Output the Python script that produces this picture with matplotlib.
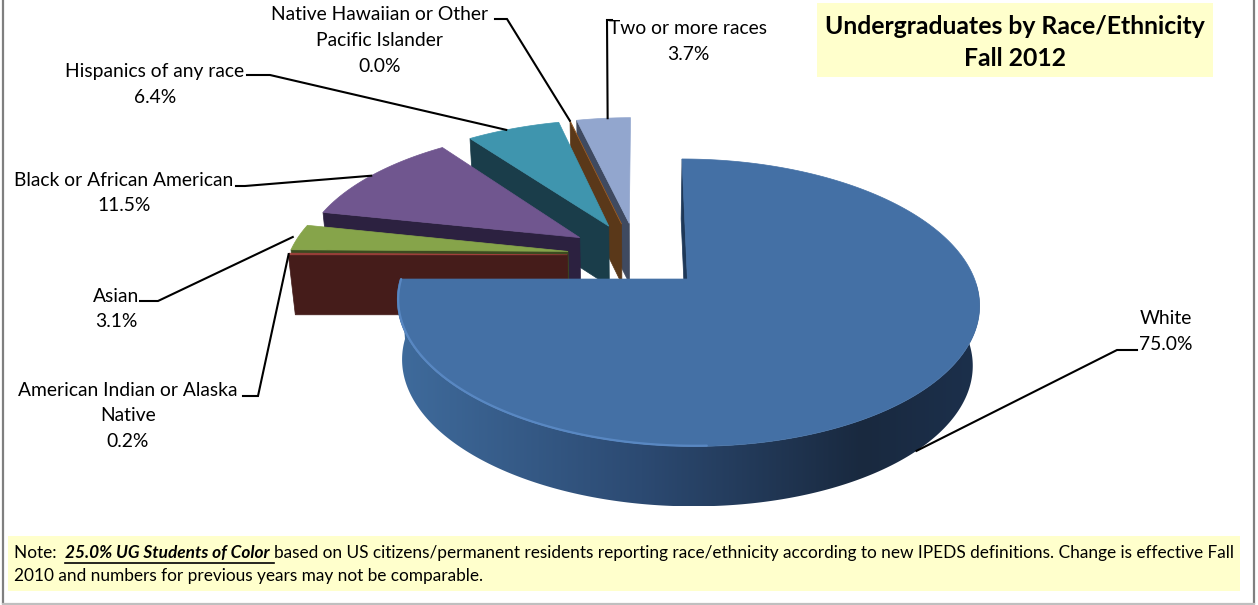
import numpy as np
import matplotlib
matplotlib.use('Agg')
import matplotlib.pyplot as plt
from matplotlib.patches import Polygon
from matplotlib.colors import LinearSegmentedColormap

categories = ['White', 'American Indian or Alaska Native', 'Asian',
              'Black or African American', 'Hispanics of any race',
              'Native Hawaiian or Other Pacific Islander', 'Two or more races']
values = [75.0, 0.2, 3.1, 11.5, 6.4, 0.0, 3.7]

label_lines = [['White', '75.0%'],
               ['American Indian or Alaska', 'Native', '0.2%'],
               ['Asian', '3.1%'],
               ['Black or African American', '11.5%'],
               ['Hispanics of any race', '6.4%'],
               ['Native Hawaiian or Other', 'Pacific Islander', '0.0%'],
               ['Two or more races', '3.7%']]
label_pos = [(1166, 319), (128, 390), (116, 296), (124, 180),
             (155, 72), (380, 15), (688, 29)]
# leader: label end, elbow; last point comes from the slice rim
leader_start = [(1137, 350), (243, 396), (140, 301), (236, 186),
                (247, 75), (495, 19), (612, 20)]
leader_elbow = [(1117, 350), (258, 396), (158, 301), (245, 186),
                (270, 75), (507, 19), (607, 20)]
leader_rim_angle = [135, 270.3, 276.3, 302, 333, 346.3, 354]
leader_gap = [0.0, 0.0, 0.02, 0.0, 0.0, 0.0, 0.0]

top_colors = ['#4470A5', '#A0403C', '#86A44A', '#70568F', '#3F95AE', '#A8662C', '#92A6CE']
face_colors = ['#1E3858', '#451C1A', '#3C4A20', '#2C2140', '#1A3D4A', '#5A3819', '#3F4A60']

title_lines = ['Undergraduates by Race/Ethnicity', 'Fall 2012']
note_first = [('Note:  ', False), ('25.0% UG Students of Color ', True),
              ('based on US citizens/permanent residents reporting race/ethnicity '
               'according to new IPEDS definitions. Change is effective Fall', False)]
note_second = '2010 and numbers for previous years may not be comparable.'

# fake 3D projection, fitted in pixels on the picture
CX, CY = 637, 255
F, G = 279, 132
K = 0.16
SHIFT = 2
EXPLODE = 0.25
THICK = 60
BOTTOM_SCALE = 0.98
YELLOW = '#FFFFCC'
FONT = 'Lato'
LABEL_SIZE = 13.9
TITLE_SIZE = 17.8
NOTE_SIZE = 12.45


def project(X, Y, bottom=False):
    s = 1 / (1 + K * Y)
    x = CX + F * X * s + SHIFT * Y * s
    y = CY - G * Y * s
    if bottom:
        x = CX + (x - CX) * BOTTOM_SCALE
        y = y + THICK
    return x, y


def rim_point(theta, offset, radius=1.0, bottom=False):
    t = np.radians(theta)
    return project(offset[0] + radius * np.sin(t), offset[1] + radius * np.cos(t), bottom)


def draw_slice(ax, start, end, offset, top_color, face_color):
    big = end - start > 90

    # radial cut face at the start angle
    ax_pts = [project(*offset), rim_point(start, offset),
              rim_point(start, offset, bottom=True), project(*offset, bottom=True)]
    ax.fill(*zip(*ax_pts), color=face_color, lw=0.5)

    if big:
        # front rim of the big slice, gradient image clipped to the rim shape
        thetas = np.linspace(max(start, 92), end, 300)
        xt, yt = rim_point(thetas, offset)
        xb, yb = rim_point(thetas, offset, bottom=True)
        pts = np.c_[np.r_[xt, xb[::-1]], np.r_[yt, yb[::-1]]]
        cmap = LinearSegmentedColormap.from_list(
            'rim', [(0, '#1C304C'), (0.2, '#19293F'), (0.58, '#2C4A72'), (1, '#3F6B9C')])
        shape = Polygon(pts, closed=True, transform=ax.transData, fc='none', ec='none')
        ax.add_patch(shape)
        grad = np.linspace(0, 1, 256)[::-1].reshape(1, -1)
        img = ax.imshow(grad, cmap=cmap, aspect='auto', interpolation='bilinear',
                        extent=[pts[:, 0].min(), pts[:, 0].max(), pts[:, 1].max(), pts[:, 1].min()])
        img.set_clip_path(shape)

    thetas = np.linspace(start, end, max(int(end - start) * 2, 2))
    x, y = rim_point(thetas, offset)
    ox, oy = project(*offset)
    ax.fill(np.r_[ox, x], np.r_[oy, y], color=top_color, lw=0.5)

    if big:
        # light bevel along the front left edge
        thetas = np.linspace(178, end, 120)
        x, y = rim_point(thetas, offset, radius=0.997)
        ax.plot(x, y, color='#5C8CC8', lw=1.6, alpha=0.85, solid_capstyle='round')


def write_note(fig, ax, x, y, parts):
    renderer = fig.canvas.get_renderer()
    for text, emph in parts:
        style = dict(fontsize=NOTE_SIZE, family=FONT,
                     weight='bold' if emph else 'normal',
                     style='italic' if emph else 'normal')
        t = ax.text(x, y, text + '.', va='center', ha='left', **style)
        # trailing spaces are not measured, so measure with a dot and take it off
        dot = ax.text(0, 0, '.', **style)
        width = t.get_window_extent(renderer).width - dot.get_window_extent(renderer).width
        dot.remove()
        t.set_text(text)
        if emph:
            ax.plot([x, x + width], [y + 10, y + 10], color='black', lw=1.2)
        x += width


fig = plt.figure(figsize=(12.58, 6.05), dpi=100)
ax = fig.add_axes([0, 0, 1, 1])

# outer frame
ax.plot([3, 3], [0, 603], color='#7F7F7F', lw=1.6)
ax.plot([1254, 1254], [0, 603], color='#7F7F7F', lw=1.6)
ax.plot([3, 1254], [603.5, 603.5], color='#BFBFBF', lw=1.6)

angles = np.r_[0, np.cumsum(values) * 3.6]
offsets = []
for i in range(len(values)):
    mid = np.radians((angles[i] + angles[i + 1]) / 2)
    offsets.append((EXPLODE * np.sin(mid), EXPLODE * np.cos(mid)))

# back slices first, the big one last
for i in reversed(range(len(values))):
    draw_slice(ax, angles[i], angles[i + 1], offsets[i], top_colors[i], face_colors[i])

# leaders
for i in range(len(values)):
    rx, ry = rim_point(leader_rim_angle[i], offsets[i], radius=1.0 + leader_gap[i],
                       bottom=(i == 0))
    px = [leader_start[i][0], leader_elbow[i][0], rx]
    py = [leader_start[i][1], leader_elbow[i][1], ry]
    ax.plot(px, py, color='black', lw=1.5, zorder=5, solid_joinstyle='miter')

# labels
for lines, (x, y) in zip(label_lines, label_pos):
    for j, line in enumerate(lines):
        ax.text(x, y + j * 25.8, line, ha='center', va='center', fontsize=LABEL_SIZE, family=FONT)

# title box
ax.fill_between([817, 1213], 3, 77, color=YELLOW, lw=0)
for j, line in enumerate(title_lines):
    ax.text(1015, 27 + j * 32, line, ha='center', va='center', fontsize=TITLE_SIZE,
            family=FONT, weight='bold')

# note box
ax.fill_between([8, 1240], 536, 591, color=YELLOW, lw=0)
write_note(fig, ax, 14, 553, note_first)
ax.text(14, 576, note_second, fontsize=NOTE_SIZE, family=FONT, va='center', ha='left')

ax.set_xlim(0, 1258)
ax.set_ylim(605, 0)
ax.axis('off')

fig.savefig('out.png', dpi=100)
